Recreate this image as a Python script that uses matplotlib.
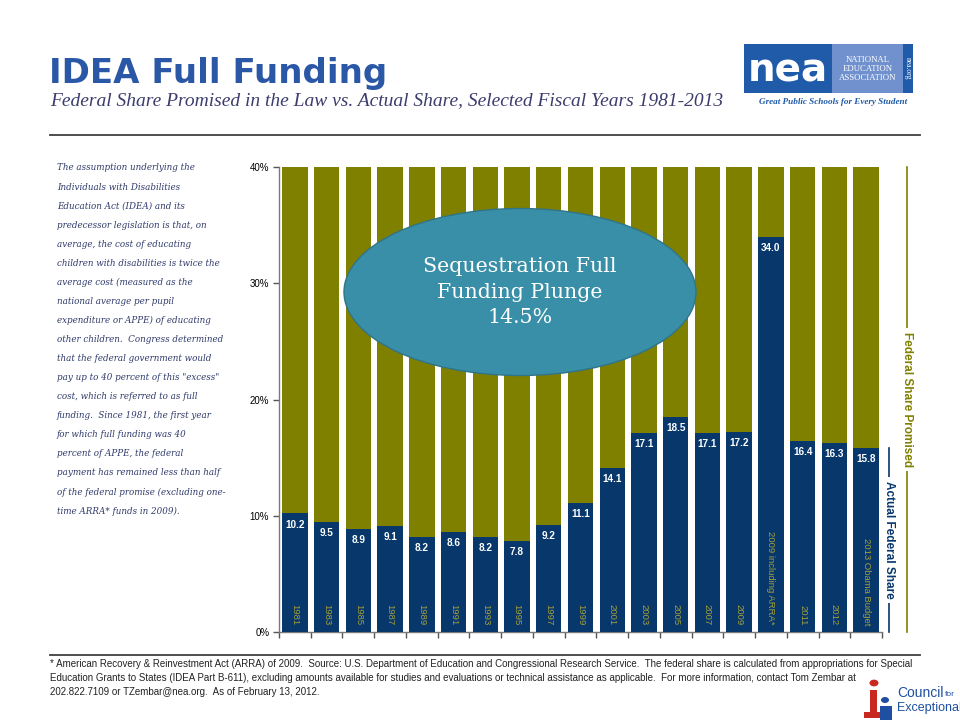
import matplotlib
matplotlib.use("Agg")
import matplotlib.pyplot as plt
from matplotlib.patches import Ellipse, Rectangle, Circle
import matplotlib.transforms as mtransforms

# ---------------- data ----------------
years = ['1981', '1983', '1985', '1987', '1989', '1991', '1993', '1995', '1997',
         '1999', '2001', '2003', '2005', '2007', '2009', '2009 including ARRA*',
         '2011', '2012', '2013 Obama Budget']
actual_share = [10.2, 9.5, 8.9, 9.1, 8.2, 8.6, 8.2, 7.8, 9.2,
                11.1, 14.1, 17.1, 18.5, 17.1, 17.2, 34.0,
                16.4, 16.3, 15.8]
promised_share = [40] * len(years)
ytick_vals = [0, 10, 20, 30, 40]
ytick_labels = ['0%', '10%', '20%', '30%', '40%']

title = "IDEA Full Funding"
subtitle = "Federal Share Promised in the Law vs. Actual Share, Selected Fiscal Years 1981-2013"
callout = "Sequestration Full\nFunding Plunge\n14.5%"
side_lines = [
    "The assumption underlying the",
    "Individuals with Disabilities",
    "Education Act (IDEA) and its",
    "predecessor legislation is that, on",
    "average, the cost of educating",
    "children with disabilities is twice the",
    "average cost (measured as the",
    "national average per pupil",
    "expenditure or APPE) of educating",
    "other children.  Congress determined",
    "that the federal government would",
    "pay up to 40 percent of this \"excess\"",
    "cost, which is referred to as full",
    "funding.  Since 1981, the first year",
    "for which full funding was 40",
    "percent of APPE, the federal",
    "payment has remained less than half",
    "of the federal promise (excluding one-",
    "time ARRA* funds in 2009).",
]
footer_lines = [
    "* American Recovery & Reinvestment Act (ARRA) of 2009.  Source: U.S. Department of Education and Congressional Research Service.  The federal share is calculated from appropriations for Special",
    "Education Grants to States (IDEA Part B-611), excluding amounts available for studies and evaluations or technical assistance as applicable.  For more information, contact Tom Zembar at",
    "202.822.7109 or TZembar@nea.org.  As of February 13, 2012.",
]

# ---------------- style ----------------
OLIVE = '#808000'
NAVY = '#07376B'
YEARCOL = '#A3A03A'
TEAL = '#3A8FA8'
TITLEBLUE = '#2A58A6'
NEABLUE = '#1F5BA8'
NEALIGHT = '#7090CE'
SANS = ['Liberation Sans', 'DejaVu Sans']

W, H = 960, 720
fig = plt.figure(figsize=(9.6, 7.2), dpi=100)
fig.patch.set_facecolor('white')


def fx(x):
    return x / W


def fy(y):
    return 1 - y / H


def ftext(x, y, s, **kw):
    return fig.text(fx(x), fy(y), s, **kw)


def frect(x0, y0, x1, y1, color, z=1):
    r = Rectangle((fx(x0), fy(y1)), fx(x1) - fx(x0), fy(y0) - fy(y1),
                  transform=fig.transFigure, facecolor=color, edgecolor='none', zorder=z)
    fig.add_artist(r)
    return r


# ---------------- header ----------------
ftext(49, 73, title, fontsize=24.5, fontweight='bold', color=TITLEBLUE,
      family=['DejaVu Sans'], va='center', ha='left')
ftext(50, 101, subtitle, fontsize=14, style='italic', color='#3C3C6E',
      family=['Liberation Serif', 'DejaVu Serif'], va='center', ha='left')
fig.add_artist(plt.Line2D([fx(50), fx(920)], [fy(135), fy(135)], transform=fig.transFigure,
                          color='#404040', lw=1.3))

# NEA logo
frect(744, 44, 832, 93, NEABLUE, z=2)
frect(832, 44, 903, 93, NEALIGHT, z=2)
frect(903, 44, 913, 93, NEABLUE, z=2)
ftext(788, 70, "nea", fontsize=28, fontweight='bold', color='white',
      family=['DejaVu Sans'], ha='center', va='center', zorder=3)
ftext(867.5, 69, "NATIONAL\nEDUCATION\nASSOCIATION", fontsize=6.3, color='white',
      family=['Liberation Serif', 'DejaVu Serif'], ha='center', va='center',
      linespacing=1.25, zorder=3)
ftext(908, 68, "nea.org", fontsize=5.5, color='white', rotation=270,
      family=['Liberation Serif', 'DejaVu Serif'], ha='center', va='center', zorder=3)
ftext(833, 102, "Great Public Schools for Every Student", fontsize=6.6, color=NEABLUE,
      fontweight='bold', style='italic', family=['Liberation Serif', 'DejaVu Serif'],
      ha='center', va='center')

# ---------------- side text ----------------
for i, line in enumerate(side_lines):
    ftext(57, 168 + i * 19.06, line, fontsize=6.3, style='italic', color='#2F3A6B',
          family=['DejaVu Serif'], ha='left', va='center')

# ---------------- chart ----------------
ax = fig.add_axes([fx(279), fy(632), fx(882) - fx(279), fy(167) - fy(632)])
x = list(range(len(years)))
ax.bar(x, promised_share, width=0.8, color=OLIVE, zorder=2)
ax.bar(x, actual_share, width=0.8, color=NAVY, zorder=3)
ax.set_xlim(-0.5, len(years) - 0.5)
ax.set_ylim(0, 40)
ax.set_yticks(ytick_vals)
ax.set_yticklabels(ytick_labels, fontsize=7, family=SANS)
ax.set_xticks([i - 0.5 for i in range(len(years) + 1)])
ax.set_xticklabels([])
for s in ['top', 'right']:
    ax.spines[s].set_visible(False)
for s in ['left', 'bottom']:
    ax.spines[s].set_color('#7A7A7A')
    ax.spines[s].set_linewidth(1.0)
ax.tick_params(axis='both', length=4, color='#555555', width=1, pad=3)
ax.tick_params(axis='x', direction='out')
ax.set_facecolor('none')

for xi, v, yr in zip(x, actual_share, years):
    ax.annotate(f"{v:.1f}", (xi, v), xytext=(0, -8), textcoords='offset points',
                ha='center', va='center', color='white', fontsize=7.2, fontweight='bold',
                family=SANS, zorder=5)
    ax.annotate(yr, (xi, 0), xytext=(0, 5), textcoords='offset points', rotation=270,
                ha='center', va='bottom', color=YEARCOL, fontsize=6.8,
                family=SANS, zorder=5)

# bracket labels on the right (x in figure coords, y in data coords)
btrans = mtransforms.blended_transform_factory(fig.transFigure, ax.transData)
ax.plot([fx(907), fx(907)], [0, promised_share[-1]], transform=btrans, color=OLIVE,
        lw=1.2, clip_on=False, zorder=1)
ax.text(fx(907), promised_share[-1] / 2, "Federal Share Promised", transform=btrans,
        rotation=270, ha='center', va='center', color=OLIVE, fontsize=8.5, fontweight='bold',
        family=SANS, clip_on=False,
        bbox=dict(facecolor='white', edgecolor='none', pad=3), zorder=2)
ax.plot([fx(889), fx(889)], [0, actual_share[-1]], transform=btrans, color=NAVY,
        lw=1.2, clip_on=False, zorder=1)
ax.text(fx(889), actual_share[-1] / 2, "Actual Federal Share", transform=btrans,
        rotation=270, ha='center', va='center', color=NAVY, fontsize=8.5, fontweight='bold',
        family=SANS, clip_on=False,
        bbox=dict(facecolor='white', edgecolor='none', pad=3), zorder=2)

# callout ellipse
ell = Ellipse((fx(520), fy(292)), fx(352), 167 / H, transform=fig.transFigure,
              facecolor=TEAL, edgecolor='#2F7488', lw=1.0, zorder=10)
fig.add_artist(ell)
ftext(520, 292, callout, fontsize=14.8, color='white', family=['DejaVu Serif'],
      ha='center', va='center', linespacing=1.42, zorder=11)

# ---------------- footer ----------------
fig.add_artist(plt.Line2D([fx(50), fx(920)], [fy(655), fy(655)], transform=fig.transFigure,
                          color='#404040', lw=1.3))
for i, line in enumerate(footer_lines):
    ftext(50, 664 + i * 14, line, fontsize=7.0, color='#222222', family=SANS,
          ha='left', va='center', zorder=2)

# CEC logo (approximate, partly cut off at the slide edge as in the source)
frect(914, 670, 960, 686, 'white', z=3)
fig.add_artist(Circle((fx(874), fy(683)), 4.5 / W, transform=fig.transFigure,
                      facecolor='#C8281E', edgecolor='none', zorder=4))
frect(870, 690, 877, 716, '#C8281E', z=4)
frect(864, 712, 882, 718, '#C8281E', z=4)
fig.add_artist(Circle((fx(885), fy(700)), 4 / W, transform=fig.transFigure,
                      facecolor='#1F4FA0', edgecolor='none', zorder=4))
frect(880, 706, 892, 720, '#1F4FA0', z=4)
ftext(897, 693, "Council", fontsize=10, color='#1F4FA0', family=SANS,
      ha='left', va='center', zorder=4)
ftext(945, 694, "for", fontsize=6, color='#1F4FA0', family=SANS,
      ha='left', va='center', zorder=4)
ftext(897, 708, "Exceptional", fontsize=9, color='#1F4FA0', family=SANS,
      ha='left', va='center', zorder=4)

fig.savefig("out.png", dpi=100, facecolor='white')
